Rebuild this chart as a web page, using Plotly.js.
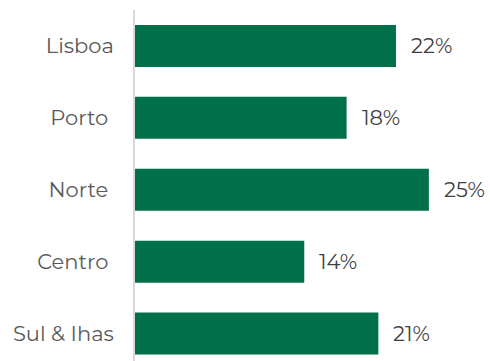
<!DOCTYPE html>
<html><head><meta charset="utf-8">
<script src="https://cdn.plot.ly/plotly-3.0.1.min.js"></script>
<style>html,body{margin:0;padding:0;background:#fff}#c{width:490px;height:361px}</style>
</head><body><div id="c"></div>
<script>
const categories = ["Lisboa", "Porto", "Norte", "Centro", "Sul & Ihas"];
const tickLabels = ["Lisboa", "Porto\u00a0", "Norte\u00a0", "Centro\u00a0", "Sul & Ihas"];
const values = [22.2, 18.0, 25.0, 14.4, 20.7];
const labels = ["22%", "18%", "25%", "14%", "21%"];

const font = "Montserrat, 'Open Sans', sans-serif";
const trace = {
  type: "bar", orientation: "h",
  x: values, y: categories,
  marker: {color: "#00704A"},
  hoverinfo: "none"
};
const annotations = categories.map((c, i) => ({
  x: values[i], y: c, xref: "x", yref: "y",
  text: labels[i], showarrow: false, xanchor: "left", xshift: 13,
  font: {family: font, size: 21, color: "#404040"}
}));
const layout = {
  width: 490, height: 361,
  margin: {l: 135, r: 0, t: 10, b: 0},
  paper_bgcolor: "#fff", plot_bgcolor: "#fff",
  bargap: 0.416,
  showlegend: false,
  xaxis: {range: [0, 30.2], visible: false, fixedrange: true},
  yaxis: {
    type: "category", categoryorder: "array", categoryarray: categories,
    tickmode: "array", tickvals: categories, ticktext: tickLabels,
    range: [4.382, -0.5],
    showline: true, linecolor: "#d9d9d9", linewidth: 2,
    showgrid: false, zeroline: false, ticks: "",
    ticklabelstandoff: 15,
    tickfont: {family: font, size: 21, color: "#595959"}
  },
  annotations: annotations
};
Plotly.newPlot("c", [trace], layout, {displayModeBar: false, staticPlot: true});
</script></body></html>
